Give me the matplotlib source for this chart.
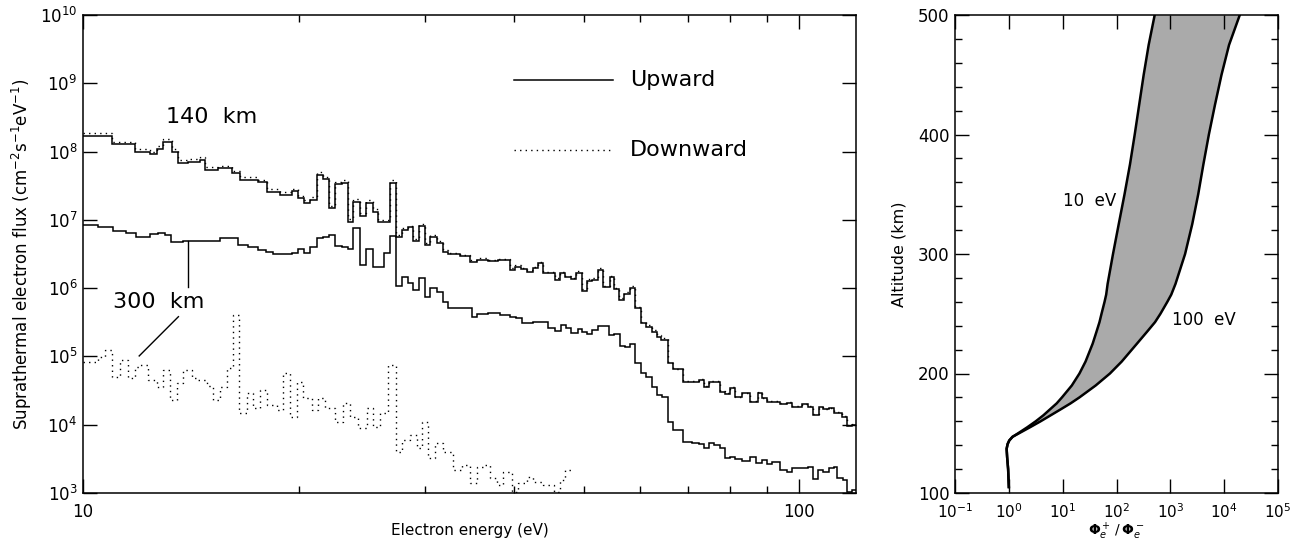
import numpy as np
import matplotlib
matplotlib.use("Agg")
import matplotlib.pyplot as plt
from matplotlib.ticker import FixedLocator, NullLocator, LogLocator, LogFormatterSciNotation, MultipleLocator

plt.rcParams['font.family'] = ['DejaVu Sans']
plt.rcParams['mathtext.fontset'] = 'dejavusans'

# --- left panel: suprathermal electron spectra (bin edges in eV, log10 flux) ---
e_140 = [10.0, 10.97, 11.82, 12.41, 12.67, 12.93, 13.30, 13.59, 14.03, 14.57, 14.80, 15.44, 16.13,
         16.57, 17.56, 18.05, 18.84, 19.57, 19.99, 20.36, 20.75, 21.20, 21.62, 22.08, 22.49, 22.98,
         23.47, 23.85, 24.37, 24.85, 25.39, 25.85, 26.84, 27.36, 27.87, 28.47, 28.93, 29.49, 30.04,
         30.52, 31.19, 31.86, 32.37, 33.61, 34.71, 35.47, 36.78, 37.98, 39.44, 40.08, 40.94, 41.74,
         42.51, 43.20, 43.90, 45.58, 46.32, 47.16, 48.08, 48.86, 49.66, 50.46, 51.28, 52.28, 53.24,
         54.40, 55.16, 56.00, 56.97, 58.02, 58.96, 60.11, 61.08, 62.19, 63.20, 64.10, 65.48, 66.69,
         68.81, 72.35, 73.52, 74.71, 77.58, 78.83, 80.11, 81.41, 83.19, 85.44, 87.47, 88.71, 90.15,
         94.09, 96.13, 97.69, 100.87, 102.70, 104.50, 106.39, 107.91, 109.87, 111.65, 114.71,
         116.57, 118.46, 120.1]
up_140 = [8.233, 8.107, 7.998, 7.960, 8.038, 8.145, 7.998, 7.837, 7.852, 7.877, 7.730, 7.755, 7.682,
          7.584, 7.550, 7.413, 7.364, 7.416, 7.316, 7.251, 7.291, 7.657, 7.594, 7.170, 7.521, 7.544,
          6.973, 7.266, 7.057, 7.251, 7.120, 6.965, 7.544, 6.754, 6.852, 6.891, 6.695, 6.910, 6.632,
          6.754, 6.666, 6.534, 6.493, 6.464, 6.388, 6.412, 6.391, 6.405, 6.266, 6.314, 6.276, 6.241,
          6.291, 6.364, 6.218, 6.120, 6.218, 6.159, 6.130, 6.227, 5.959, 6.105, 6.120, 6.266, 6.013,
          6.159, 5.983, 5.827, 5.915, 6.007, 5.705, 5.486, 5.436, 5.363, 5.289, 5.241, 4.900, 4.812,
          4.630, 4.655, 4.557, 4.630, 4.484, 4.450, 4.543, 4.402, 4.461, 4.338, 4.469, 4.387, 4.338,
          4.304, 4.323, 4.264, 4.300, 4.264, 4.143, 4.256, 4.226, 4.241, 4.176, 4.118, 3.982, 3.996]
down_140 = [8.273, 8.147, 8.038, 8.000, 8.078, 8.185, 8.038, 7.877, 7.892, 7.917, 7.770, 7.795, 7.722,
            7.624, 7.590, 7.453, 7.404, 7.456, 7.356, 7.291, 7.331, 7.697, 7.634, 7.210, 7.561, 7.584,
            7.013, 7.306, 7.097, 7.291, 7.160, 7.005, 7.584, 6.779, 6.877, 6.916, 6.720, 6.935, 6.657,
            6.779, 6.691, 6.559, 6.518, 6.489, 6.413, 6.437, 6.416, 6.430, 6.291, 6.339, 6.301, 6.266,
            6.316, 6.389, 6.243, 6.145, 6.243, 6.184, 6.155, 6.252, 5.984, 6.130, 6.145, 6.291, 6.038,
            6.184, 6.008, 5.852, 5.940, 6.032, 5.730, 5.511, 5.461, 5.388, 5.314, 5.266, 4.910, 4.822,
            4.640, 4.665, 4.567, 4.640, 4.494, 4.460, 4.553, 4.412, 4.471, 4.348, 4.479, 4.397, 4.348,
            4.314, 4.333, 4.274, 4.310, 4.274, 4.153, 4.266, 4.236, 4.251, 4.186, 4.128, 3.992, 4.006]

e_300up = [10.0, 10.49, 11.01, 11.49, 11.87, 12.39, 12.73, 13.00, 13.28, 13.79, 15.52, 16.46, 17.00,
           17.56, 18.03, 18.42, 19.57, 19.99, 20.36, 20.75, 21.20, 21.66, 22.08, 22.49, 22.98, 23.47,
           23.85, 24.37, 24.85, 25.39, 26.33, 26.84, 27.36, 27.87, 28.47, 28.93, 29.49, 30.04, 30.52,
           31.19, 31.86, 32.37, 34.90, 35.47, 36.78, 38.19, 39.44, 40.29, 41.03, 42.51, 44.61, 45.67,
           46.47, 47.31, 48.08, 49.02, 49.66, 50.46, 51.39, 52.28, 54.23, 55.16, 56.18, 57.10, 58.02,
           58.96, 60.11, 61.08, 62.19, 63.35, 64.37, 65.48, 66.69, 68.81, 70.83, 72.35, 73.52, 74.71,
           75.92, 77.58, 78.83, 80.11, 81.41, 83.19, 85.44, 87.10, 88.71, 90.15, 91.61, 94.09, 96.13,
           97.69, 102.70, 104.50, 106.05, 107.91, 109.87, 111.65, 112.90, 115.08, 116.57, 118.46, 120.1]
up_300 = [6.925, 6.891, 6.842, 6.803, 6.754, 6.789, 6.808, 6.779, 6.680, 6.695, 6.730, 6.632, 6.607,
          6.559, 6.534, 6.493, 6.511, 6.569, 6.519, 6.607, 6.730, 6.754, 6.779, 6.617, 6.598, 6.569,
          6.877, 6.339, 6.574, 6.310, 6.511, 6.768, 6.036, 6.168, 6.071, 5.973, 6.145, 5.875, 5.998,
          5.948, 5.802, 5.705, 5.582, 5.622, 5.632, 5.607, 5.582, 5.559, 5.494, 5.509, 5.412, 5.377,
          5.461, 5.421, 5.348, 5.398, 5.363, 5.329, 5.387, 5.446, 5.314, 5.329, 5.153, 5.143, 5.182,
          4.900, 4.753, 4.704, 4.557, 4.436, 4.402, 4.045, 3.923, 3.752, 3.737, 3.718, 3.655, 3.728,
          3.703, 3.655, 3.509, 3.532, 3.494, 3.474, 3.532, 3.435, 3.484, 3.425, 3.459, 3.337, 3.313,
          3.362, 3.386, 3.201, 3.337, 3.313, 3.362, 3.386, 3.216, 3.191, 3.020, 3.045]

e_300down = [10.0, 10.50, 10.73, 10.97, 11.27, 11.57, 11.82, 12.01, 12.34, 12.67, 12.95, 13.23, 13.52,
             13.81, 14.19, 14.49, 14.89, 15.21, 15.54, 15.87, 16.21, 16.53, 16.93, 17.29, 17.67, 18.05,
             18.64, 19.04, 19.46, 19.88, 20.31, 20.87, 21.31, 21.78, 22.49, 23.10, 23.60, 24.24, 24.90,
             25.44, 25.99, 26.69, 27.34, 27.87, 28.62, 29.25, 29.72, 30.36, 31.02, 31.86, 32.90, 33.80,
             34.71, 35.47, 36.23, 37.02, 37.83, 38.64, 39.70, 40.55, 41.66, 42.55, 43.94, 45.38, 46.37,
             47.12, 48.14]
down_300 = [4.923, 4.988, 5.095, 4.704, 4.948, 4.680, 4.850, 4.875, 4.655, 4.557, 4.802, 4.362, 4.607,
            4.802, 4.680, 4.655, 4.567, 4.362, 4.557, 4.827, 5.607, 4.168, 4.461, 4.241, 4.509, 4.289,
            4.216, 4.753, 4.118, 4.630, 4.387, 4.216, 4.387, 4.241, 4.045, 4.314, 4.118, 3.948, 4.241,
            3.971, 4.168, 4.875, 3.605, 3.777, 3.850, 3.655, 4.045, 3.509, 3.728, 3.605, 3.337, 3.411,
            3.143, 3.386, 3.411, 3.216, 3.118, 3.313, 3.020, 3.143, 3.239, 3.166, 3.118, 3.020, 3.191,
            3.337]

# --- right panel: upward/downward flux ratio vs altitude ---
alt_km = [105, 120, 130, 137, 141, 144, 147, 150, 155, 160, 165, 170, 175, 180, 190, 200, 210, 225,
          235, 243, 250, 260, 266, 275, 300, 325, 350, 375, 400, 425, 450, 475, 500]
ratio_10ev = [1.0, 0.97, 0.93, 0.91, 0.95, 1.02, 1.17, 1.49, 2.20, 3.16, 4.38, 5.82, 7.74, 9.70, 14.8,
              20.5, 26.6, 36.1, 42.5, 48.3, 52.7, 60.0, 64.3, 68.4, 86.1, 110, 141, 178, 218, 264,
              320, 396, 512]
ratio_100ev = [1.0, 0.97, 0.93, 0.91, 0.95, 1.02, 1.17, 1.55, 2.47, 3.89, 5.98, 9.18, 14.0, 20.5, 41.1,
               75.5, 125, 240, 370, 520, 655, 880, 1040, 1247, 1879, 2553, 3296, 4111, 5200, 6760,
               8930, 12330, 19500]

dotted = (0, (1, 3))

fig = plt.figure(figsize=(13.01, 5.43), dpi=100)
ax = fig.add_axes([83 / 1301, 50 / 543, 773 / 1301, 478 / 543])
ax2 = fig.add_axes([955 / 1301, 50 / 543, 323 / 1301, 478 / 543])

# left panel
ax.stairs(10 ** np.array(down_140), e_140, baseline=None, color='k', lw=1.0, ls=dotted)
ax.stairs(10 ** np.array(up_140), e_140, baseline=None, color='k', lw=1.1)
ax.stairs(10 ** np.array(down_300), e_300down, baseline=None, color='k', lw=1.0, ls=dotted)
ax.stairs(10 ** np.array(up_300), e_300up, baseline=None, color='k', lw=1.1)

ax.set_xscale('log')
ax.set_yscale('log')
ax.set_xlim(10, 120)
ax.set_ylim(1e3, 1e10)
ax.xaxis.set_major_locator(FixedLocator([10, 100]))
ax.set_xticklabels(['10', '100'])
ax.xaxis.set_minor_locator(FixedLocator([20, 30, 40, 50, 60, 70, 80, 90]))
ax.xaxis.set_minor_formatter(plt.NullFormatter())
ax.yaxis.set_major_locator(LogLocator(base=10, numticks=20))
ax.yaxis.set_major_formatter(LogFormatterSciNotation())
ax.yaxis.set_minor_locator(NullLocator())

# annotations
ax.text(0.167, 0.787, '140  km', transform=ax.transAxes, ha='center', va='center', fontsize=16)
ax.text(0.098, 0.400, '300  km', transform=ax.transAxes, ha='center', va='center', fontsize=16)
ax.plot([14.0, 14.0], [10 ** 6.695, 10 ** 6.022], color='k', lw=1.0)
ax.plot([13.59, 11.98], [10 ** 5.582, 10 ** 5.007], color='k', lw=1.0)

# legend drawn by hand
ax.plot([0.5576, 0.6856], [0.864, 0.864], transform=ax.transAxes, color='k', lw=1.1)
ax.plot([0.5576, 0.6856], [0.718, 0.718], transform=ax.transAxes, color='k', lw=1.0, ls=dotted)
ax.text(0.7076, 0.864, 'Upward', transform=ax.transAxes, ha='left', va='center', fontsize=16)
ax.text(0.7076, 0.718, 'Downward', transform=ax.transAxes, ha='left', va='center', fontsize=16)

ax.set_xlabel('Electron energy (eV)', fontsize=11)
ax.set_ylabel(r'Suprathermal electron flux (cm$^{-2}$s$^{-1}$eV$^{-1}$)', fontsize=12)
ax.xaxis.set_label_coords(0.5, -0.062)
ax.yaxis.set_label_coords(-0.063, 0.5)

# right panel
ax2.fill_betweenx(alt_km, ratio_10ev, ratio_100ev, color='#aaaaaa', lw=0)
ax2.plot(ratio_10ev, alt_km, color='k', lw=1.8)
ax2.plot(ratio_100ev, alt_km, color='k', lw=1.8)
ax2.set_xscale('log')
ax2.set_xlim(1e-1, 1e5)
ax2.set_ylim(100, 500)
ax2.xaxis.set_major_locator(LogLocator(base=10, numticks=20))
ax2.xaxis.set_major_formatter(LogFormatterSciNotation())
ax2.xaxis.set_minor_locator(NullLocator())
ax2.yaxis.set_major_locator(MultipleLocator(100))
ax2.yaxis.set_minor_locator(MultipleLocator(20))
ax2.text(0.335, 0.611, '10  eV', transform=ax2.transAxes, ha='left', va='center', fontsize=12)
ax2.text(0.671, 0.361, '100  eV', transform=ax2.transAxes, ha='left', va='center', fontsize=12)
ax2.set_ylabel('Altitude (km)', fontsize=11.5)
ax2.set_xlabel(r'$\mathbf{\Phi}_e^+\,/\,\mathbf{\Phi}_e^-$', fontsize=10)
ax2.xaxis.set_label_coords(0.5, -0.057)
ax2.yaxis.set_label_coords(-0.15, 0.5)

for a in (ax, ax2):
    a.tick_params(which='both', direction='in', top=True, right=True, labelsize=12, width=1.0)
    a.tick_params(which='major', length=10)
    a.tick_params(which='minor', length=5)
    a.tick_params(axis='y', pad=4)
    for s in a.spines.values():
        s.set_linewidth(1.1)
ax.tick_params(axis='x', pad=7)
ax2.tick_params(axis='x', pad=7, labelsize=11)

fig.savefig('out.png', dpi=100)
